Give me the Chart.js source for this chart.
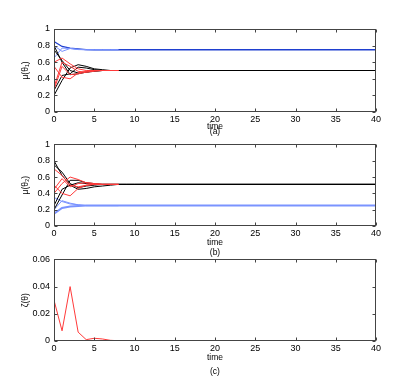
<!DOCTYPE html>
<html>
<head>
<meta charset="utf-8">
<script src="https://cdn.jsdelivr.net/npm/chart.js@4/dist/chart.umd.min.js"></script>
<style>
  body { margin: 0; background: #fff; }
  #wrap { position: relative; width: 415px; height: 384px; }
  canvas { position: absolute; left: 0; }
  .cap { position: absolute; font: 8.5px "Liberation Sans", Arial, sans-serif; color: #000; transform: translate(-50%, -50%); }
</style>
</head>
<body>
<div id="wrap">
  <canvas id="chartA" width="415" height="135" style="top:0"></canvas>
  <canvas id="chartB" width="415" height="115" style="top:135px"></canvas>
  <canvas id="chartC" width="415" height="134" style="top:250px"></canvas>
  <div class="cap" style="left:215px; top:131px">(a)</div>
  <div class="cap" style="left:215px; top:252px">(b)</div>
  <div class="cap" style="left:215px; top:371px">(c)</div>
</div>
<script>
// time samples: short runs stop at t=8, long ones continue to t=40
const tShort = [0, 1, 2, 3, 4, 5, 6, 7, 8];
const tLong = [0, 1, 2, 3, 4, 5, 6, 7, 8, 9, 10, 40];

// (a) mu(theta_1)
const blueA1 = [0.85, 0.79, 0.77, 0.76, 0.752, 0.75, 0.75, 0.75, 0.75, 0.75, 0.75, 0.75];
const blueA2 = [0.65, 0.77, 0.765, 0.755, 0.75, 0.75, 0.75, 0.75, 0.75];
const blueA3 = [0.8, 0.73, 0.765, 0.752, 0.75, 0.75, 0.75, 0.75, 0.75];
const blackA1 = [0.8, 0.6, 0.45, 0.46, 0.48, 0.49, 0.5, 0.5, 0.5, 0.5, 0.5, 0.5];
const blackA2 = [0.75, 0.62, 0.5, 0.47, 0.48, 0.495, 0.5, 0.5, 0.5, 0.5, 0.5, 0.5];
const blackA3 = [0.2, 0.38, 0.53, 0.57, 0.55, 0.52, 0.51, 0.5, 0.5, 0.5, 0.5, 0.5];
const blackA4 = [0.26, 0.44, 0.46, 0.54, 0.53, 0.51, 0.5, 0.5, 0.5, 0.5, 0.5, 0.5];
const redA1 = [0.6, 0.65, 0.58, 0.52, 0.5, 0.5, 0.5, 0.5, 0.5];
const redA2 = [0.3, 0.6, 0.55, 0.49, 0.48, 0.49, 0.5, 0.5, 0.5];
const redA3 = [0.55, 0.42, 0.4, 0.47, 0.49, 0.5, 0.5, 0.5, 0.5];
const redA4 = [0.27, 0.55, 0.45, 0.46, 0.48, 0.5, 0.5, 0.5, 0.5];

// (b) mu(theta_2)
const blueB1 = [0.35, 0.3, 0.27, 0.26, 0.25, 0.25, 0.25, 0.25, 0.25];
const blueB2 = [0.2, 0.31, 0.28, 0.26, 0.25, 0.25, 0.25, 0.25, 0.25];
const blueB3 = [0.15, 0.22, 0.24, 0.245, 0.25, 0.25, 0.25, 0.25, 0.25, 0.25, 0.25, 0.25];
const blackB1 = [0.8, 0.62, 0.5, 0.45, 0.46, 0.48, 0.49, 0.5, 0.51, 0.51, 0.51, 0.51];
const blackB2 = [0.75, 0.66, 0.52, 0.47, 0.49, 0.5, 0.51, 0.51, 0.51, 0.51, 0.51, 0.51];
const blackB3 = [0.2, 0.38, 0.56, 0.56, 0.53, 0.52, 0.51, 0.51, 0.51, 0.51, 0.51, 0.51];
const blackB4 = [0.25, 0.45, 0.5, 0.53, 0.52, 0.51, 0.51, 0.51, 0.51, 0.51, 0.51, 0.51];
const redB1 = [0.7, 0.62, 0.5, 0.48, 0.5, 0.51, 0.51, 0.51, 0.51];
const redB2 = [0.4, 0.52, 0.6, 0.57, 0.53, 0.52, 0.51, 0.51, 0.51];
const redB3 = [0.5, 0.4, 0.37, 0.46, 0.5, 0.51, 0.51, 0.51, 0.51];
const redB4 = [0.45, 0.58, 0.48, 0.52, 0.53, 0.52, 0.51, 0.51, 0.51];

// (c) zeta(theta)
const zeta = [0.03, 0.0075, 0.04, 0.0065, 0.001, 0.002, 0.0015, 0.0005, 0.0002, 0.0001, 0, 0];

const RED = '#ff3a3a';
const BLACK = '#000000';
const BLUE_LIGHT = '#7a93ff';
const BLUE_DARK = '#1f3fcf';

Chart.defaults.font.family = '"Liberation Sans", Arial, sans-serif';
Chart.defaults.color = '#000';

function pts(times, values) {
    return values.map((v, i) => ({ x: times[i], y: v }));
}

function line(times, values, color, width) {
    return {
        data: pts(times, values),
        borderColor: color,
        borderWidth: width || 1,
        pointRadius: 0,
        tension: 0,
        fill: false
    };
}

// box round the plot with inward ticks on all four sides
const framePlugin = {
    id: 'frame',
    afterDraw(chart) {
        const { ctx, chartArea: a, scales: { x, y } } = chart;
        const L = Math.round(a.left) + 0.5, R = Math.round(a.right) - 0.5;
        const T = Math.round(a.top) + 0.5, B = Math.round(a.bottom) - 0.5;
        ctx.save();
        ctx.strokeStyle = '#444';
        ctx.lineWidth = 1;
        ctx.beginPath();
        x.ticks.forEach(t => {
            const p = Math.round(x.getPixelForValue(t.value)) + 0.5;
            ctx.moveTo(p, B); ctx.lineTo(p, B - 3);
            ctx.moveTo(p, T); ctx.lineTo(p, T + 3);
        });
        y.ticks.forEach(t => {
            const p = Math.round(y.getPixelForValue(t.value)) + 0.5;
            ctx.moveTo(L, p); ctx.lineTo(L + 3, p);
            ctx.moveTo(R, p); ctx.lineTo(R - 3, p);
        });
        ctx.stroke();
        ctx.strokeRect(L, T, R - L, B - T);
        ctx.restore();
    }
};

const noGrid = { display: false, drawTicks: false, tickLength: 0 };

function makeChart(id, datasets, yMax, yStep, yTitle, pad, xHeight) {
    return new Chart(document.getElementById(id), {
        type: 'line',
        data: { datasets },
        options: {
            responsive: false,
            animation: false,
            layout: { padding: { left: 0, right: 39, top: pad.top, bottom: pad.bottom } },
            plugins: { legend: { display: false }, tooltip: { enabled: false } },
            scales: {
                x: {
                    type: 'linear', min: 0, max: 40,
                    grid: noGrid,
                    border: { display: false },
                    ticks: { stepSize: 5, maxRotation: 0, padding: 2, font: { size: 9 } },
                    title: { display: true, text: 'time', font: { size: 8.5 }, padding: 0 },
                    afterFit: s => { s.height = xHeight; }
                },
                y: {
                    min: 0, max: yMax,
                    grid: noGrid,
                    border: { display: false },
                    ticks: {
                        stepSize: yStep, padding: 4, font: { size: 9 },
                        callback: v => String(+v.toFixed(3))
                    },
                    title: { display: true, text: yTitle, font: { size: 8.5 }, padding: { top: 21, bottom: 0 } },
                    afterFit: s => { s.width = 54; }
                }
            }
        },
        plugins: [framePlugin]
    });
}

makeChart('chartA', [
    line(tShort, redA1, RED), line(tShort, redA2, RED), line(tShort, redA3, RED), line(tShort, redA4, RED),
    line(tLong, blackA1, BLACK), line(tLong, blackA2, BLACK), line(tLong, blackA3, BLACK), line(tLong, blackA4, BLACK),
    line(tShort, blueA2, BLUE_LIGHT), line(tShort, blueA3, BLUE_LIGHT), line(tLong, blueA1, BLUE_DARK, 1.3)
], 1, 0.2, 'μ(θ₁)', { top: 29, bottom: 3 }, 20);

makeChart('chartB', [
    line(tShort, redB1, RED), line(tShort, redB2, RED), line(tShort, redB3, RED), line(tShort, redB4, RED),
    line(tLong, blackB1, BLACK), line(tLong, blackB2, BLACK), line(tLong, blackB3, BLACK), line(tLong, blackB4, BLACK),
    line(tShort, blueB1, BLUE_LIGHT), line(tShort, blueB2, BLUE_LIGHT), line(tLong, blueB3, BLUE_LIGHT, 2)
], 1, 0.2, 'μ(θ₂)', { top: 9, bottom: 2 }, 22);

makeChart('chartC', [
    line(tLong, zeta, RED)
], 0.06, 0.02, 'ζ(θ)', { top: 9, bottom: 21 }, 22);
</script>
</body>
</html>
